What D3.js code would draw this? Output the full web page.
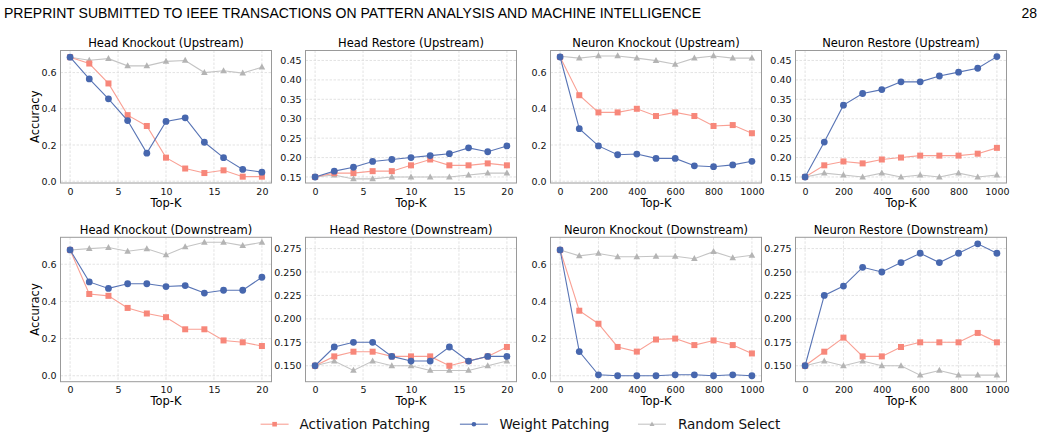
<!DOCTYPE html>
<html>
<head>
<meta charset="utf-8">
<script src="https://cdn.jsdelivr.net/npm/d3@7"></script>
<style>
  html, body { margin: 0; padding: 0; background: #fff; }
  svg { display: block; }
</style>
</head>
<body>
<svg id="chart" width="1043" height="438"></svg>
<script>
// ---------------- DATA ----------------
const headerText = "PREPRINT SUBMITTED TO IEEE TRANSACTIONS ON PATTERN ANALYSIS AND MACHINE INTELLIGENCE";
const pageNumber = "28";
const seriesNames = ["Activation Patching", "Weight Patching", "Random Select"];
const panelTitles = [
  "Head Knockout (Upstream)", "Head Restore (Upstream)", "Neuron Knockout (Upstream)", "Neuron Restore (Upstream)",
  "Head Knockout (Downstream)", "Head Restore (Downstream)", "Neuron Knockout (Downstream)", "Neuron Restore (Downstream)"
];
const xHead = [0, 2, 4, 6, 8, 10, 12, 14, 16, 18, 20];
const xNeuron = [0, 100, 200, 300, 400, 500, 600, 700, 800, 900, 1000];
const xTicksHead = [0, 5, 10, 15, 20];
const xTicksNeuron = [0, 200, 400, 600, 800, 1000];
const yTicksKnockout = [0.0, 0.2, 0.4, 0.6];
const yTicksRestoreUp = [0.15, 0.20, 0.25, 0.30, 0.35, 0.40, 0.45];
const yTicksRestoreDown = [0.150, 0.175, 0.200, 0.225, 0.250, 0.275];

// Head Knockout (Upstream)
const hkUpAct  = [0.685, 0.65, 0.54, 0.365, 0.305, 0.13, 0.07, 0.045, 0.06, 0.025, 0.025];
const hkUpWgt  = [0.685, 0.565, 0.455, 0.335, 0.155, 0.33, 0.35, 0.215, 0.13, 0.065, 0.05];
const hkUpRnd  = [0.685, 0.668, 0.677, 0.637, 0.637, 0.662, 0.667, 0.60, 0.61, 0.597, 0.63];
// Head Restore (Upstream)
const hrUpAct  = [0.15, 0.16, 0.16, 0.165, 0.165, 0.18, 0.195, 0.18, 0.18, 0.185, 0.18];
const hrUpWgt  = [0.15, 0.165, 0.175, 0.19, 0.195, 0.20, 0.205, 0.21, 0.225, 0.215, 0.23];
const hrUpRnd  = [0.15, 0.155, 0.145, 0.145, 0.15, 0.15, 0.15, 0.15, 0.155, 0.16, 0.16];
// Neuron Knockout (Upstream)
const nkUpAct  = [0.686, 0.475, 0.38, 0.38, 0.40, 0.36, 0.38, 0.36, 0.305, 0.31, 0.265];
const nkUpWgt  = [0.686, 0.29, 0.195, 0.146, 0.15, 0.126, 0.126, 0.085, 0.08, 0.09, 0.11];
const nkUpRnd  = [0.69, 0.68, 0.692, 0.692, 0.68, 0.666, 0.646, 0.68, 0.692, 0.68, 0.68];
// Neuron Restore (Upstream)
const nrUpAct  = [0.15, 0.18, 0.19, 0.185, 0.195, 0.20, 0.205, 0.205, 0.205, 0.21, 0.225];
const nrUpWgt  = [0.15, 0.24, 0.335, 0.365, 0.375, 0.395, 0.395, 0.41, 0.42, 0.43, 0.46];
const nrUpRnd  = [0.15, 0.16, 0.155, 0.15, 0.16, 0.15, 0.155, 0.15, 0.16, 0.15, 0.155];
// Head Knockout (Downstream)
const hkDnAct  = [0.677, 0.44, 0.43, 0.365, 0.335, 0.315, 0.25, 0.25, 0.19, 0.18, 0.16];
const hkDnWgt  = [0.677, 0.505, 0.47, 0.495, 0.495, 0.48, 0.485, 0.445, 0.46, 0.46, 0.53];
const hkDnRnd  = [0.677, 0.684, 0.69, 0.67, 0.683, 0.65, 0.693, 0.718, 0.718, 0.70, 0.718];
// Head Restore (Downstream)
const hrDnAct  = [0.15, 0.16, 0.165, 0.165, 0.16, 0.16, 0.16, 0.15, 0.155, 0.16, 0.17];
const hrDnWgt  = [0.15, 0.17, 0.175, 0.175, 0.16, 0.155, 0.155, 0.17, 0.155, 0.16, 0.16];
const hrDnRnd  = [0.15, 0.155, 0.145, 0.155, 0.15, 0.15, 0.145, 0.145, 0.145, 0.15, 0.155];
// Neuron Knockout (Downstream)
const nkDnAct  = [0.677, 0.35, 0.28, 0.155, 0.13, 0.195, 0.20, 0.165, 0.19, 0.165, 0.12];
const nkDnWgt  = [0.677, 0.13, 0.005, 0.0, 0.0, 0.0, 0.005, 0.005, 0.0, 0.005, 0.0];
const nkDnRnd  = [0.677, 0.645, 0.658, 0.64, 0.64, 0.643, 0.643, 0.63, 0.668, 0.635, 0.648];
// Neuron Restore (Downstream)
const nrDnAct  = [0.15, 0.165, 0.18, 0.16, 0.16, 0.17, 0.175, 0.175, 0.175, 0.185, 0.175];
const nrDnWgt  = [0.15, 0.225, 0.235, 0.255, 0.25, 0.26, 0.27, 0.26, 0.27, 0.28, 0.27];
const nrDnRnd  = [0.15, 0.155, 0.15, 0.155, 0.15, 0.15, 0.14, 0.145, 0.14, 0.14, 0.14];

// ---------------- STYLE / LAYOUT ----------------
const colors = ["#F7877A", "#4767AE", "#B4B4B4"];
const lineColors = ["#F9A094", "#5874B5", "#C4C4C4"];
const markers = ["square", "circle", "triangle"];
const font = "'DejaVu Sans', sans-serif";
const colLefts = [60.5, 305.5, 550.5, 795.5];
const panelW = 211;
const rows = [{top: 50.5, bottom: 183}, {top: 237.3, bottom: 381.7}];
const yDomains = {
  knockUp: [-0.01, 0.722], restoreUp: [0.1345, 0.4757],
  knockDown: [-0.032, 0.745], restoreDown: [0.133, 0.287]
};

const panels = [
  {title: panelTitles[0], x: xHead, xt: xTicksHead, xd: [-1, 21], yd: yDomains.knockUp, yt: yTicksKnockout, fmt: ".1f", s: [hkUpAct, hkUpWgt, hkUpRnd], r: 0, c: 0},
  {title: panelTitles[1], x: xHead, xt: xTicksHead, xd: [-1, 21], yd: yDomains.restoreUp, yt: yTicksRestoreUp, fmt: ".2f", s: [hrUpAct, hrUpWgt, hrUpRnd], r: 0, c: 1},
  {title: panelTitles[2], x: xNeuron, xt: xTicksNeuron, xd: [-50, 1050], yd: yDomains.knockUp, yt: yTicksKnockout, fmt: ".1f", s: [nkUpAct, nkUpWgt, nkUpRnd], r: 0, c: 2},
  {title: panelTitles[3], x: xNeuron, xt: xTicksNeuron, xd: [-50, 1050], yd: yDomains.restoreUp, yt: yTicksRestoreUp, fmt: ".2f", s: [nrUpAct, nrUpWgt, nrUpRnd], r: 0, c: 3},
  {title: panelTitles[4], x: xHead, xt: xTicksHead, xd: [-1, 21], yd: yDomains.knockDown, yt: yTicksKnockout, fmt: ".1f", s: [hkDnAct, hkDnWgt, hkDnRnd], r: 1, c: 0},
  {title: panelTitles[5], x: xHead, xt: xTicksHead, xd: [-1, 21], yd: yDomains.restoreDown, yt: yTicksRestoreDown, fmt: ".3f", s: [hrDnAct, hrDnWgt, hrDnRnd], r: 1, c: 1},
  {title: panelTitles[6], x: xNeuron, xt: xTicksNeuron, xd: [-50, 1050], yd: yDomains.knockDown, yt: yTicksKnockout, fmt: ".1f", s: [nkDnAct, nkDnWgt, nkDnRnd], r: 1, c: 2},
  {title: panelTitles[7], x: xNeuron, xt: xTicksNeuron, xd: [-50, 1050], yd: yDomains.restoreDown, yt: yTicksRestoreDown, fmt: ".3f", s: [nrDnAct, nrDnWgt, nrDnRnd], r: 1, c: 3}
];

const svg = d3.select("#chart");

// Header
svg.append("text").attr("x", 4).attr("y", 18)
  .attr("font-family", "'Liberation Sans Narrow', 'Liberation Sans', Arial, sans-serif")
  .attr("font-size", 14).attr("fill", "#000")
  .attr("textLength", 697).attr("lengthAdjust", "spacingAndGlyphs")
  .text(headerText);
svg.append("text").attr("x", 1037).attr("y", 18).attr("text-anchor", "end")
  .attr("font-family", "'Liberation Sans Narrow', 'Liberation Sans', Arial, sans-serif")
  .attr("font-size", 14).attr("fill", "#000")
  .text(pageNumber);

function drawMarker(g, type, cx, cy, color, size) {
  if (type === "square") {
    g.append("rect").attr("x", cx - size / 2).attr("y", cy - size / 2)
      .attr("width", size).attr("height", size).attr("fill", color);
  } else if (type === "circle") {
    g.append("circle").attr("cx", cx).attr("cy", cy).attr("r", size / 2).attr("fill", color);
  } else {
    const s = size;
    const pts = [[cx, cy - s * 0.6], [cx - s * 0.55, cy + s * 0.4], [cx + s * 0.55, cy + s * 0.4]];
    g.append("path").attr("d", d3.line()(pts) + "Z").attr("fill", color);
  }
}

const markerSizes = [6.0, 6.8, 6.0];

panels.forEach(p => {
  const left = colLefts[p.c], right = left + panelW;
  const top = rows[p.r].top, bottom = rows[p.r].bottom;
  const xs = d3.scaleLinear().domain(p.xd).range([left, right]);
  const ys = d3.scaleLinear().domain(p.yd).range([bottom, top]);
  const g = svg.append("g");

  // grid
  g.append("g").selectAll("line").data(p.xt).join("line")
    .attr("x1", d => xs(d)).attr("x2", d => xs(d)).attr("y1", top).attr("y2", bottom)
    .attr("stroke", "#dcdcdc").attr("stroke-width", 0.8).attr("stroke-dasharray", "2.5,1.5");
  g.append("g").selectAll("line").data(p.yt).join("line")
    .attr("x1", left).attr("x2", right).attr("y1", d => ys(d)).attr("y2", d => ys(d))
    .attr("stroke", "#dcdcdc").attr("stroke-width", 0.8).attr("stroke-dasharray", "2.5,1.5");

  // axes
  const xAxis = d3.axisBottom(xs).tickValues(p.xt).tickSize(0).tickPadding(5).tickFormat(d3.format("d"));
  const xg = g.append("g").attr("transform", `translate(0,${bottom})`).call(xAxis);
  const yAxis = d3.axisLeft(ys).tickValues(p.yt).tickSize(0).tickPadding(4).tickFormat(d3.format(p.fmt));
  const yg = g.append("g").attr("transform", `translate(${left},0)`).call(yAxis);
  [xg, yg].forEach(a => {
    a.select(".domain").remove();
    a.selectAll("text").attr("font-family", font).attr("font-size", 9.5).attr("fill", "#111");
  });

  // frame
  g.append("rect").attr("x", left).attr("y", top).attr("width", right - left).attr("height", bottom - top)
    .attr("fill", "none").attr("stroke", "#9a9a9a").attr("stroke-width", 1);

  // series (random first so others on top)
  [2, 0, 1].forEach(si => {
    const vals = p.s[si];
    const pts = p.x.map((xv, i) => [xs(xv), ys(vals[i])]);
    g.append("path").attr("d", d3.line()(pts)).attr("fill", "none")
      .attr("stroke", lineColors[si]).attr("stroke-width", 1.1);
    const mg = g.append("g");
    pts.forEach(pt => drawMarker(mg, markers[si], pt[0], pt[1], colors[si], markerSizes[si]));
  });

  // title
  g.append("text").attr("x", (left + right) / 2).attr("y", top - 3.5).attr("text-anchor", "middle")
    .attr("font-family", font).attr("font-size", 11.5).attr("fill", "#000").text(p.title);
  // x label
  g.append("text").attr("x", (left + right) / 2).attr("y", bottom + 23.5).attr("text-anchor", "middle")
    .attr("font-family", font).attr("font-size", 11.5).attr("fill", "#000").text("Top-K");
  // y label
  if (p.c === 0) {
    g.append("text").attr("transform", `translate(${39},${(top + bottom) / 2}) rotate(-90)`)
      .attr("text-anchor", "middle").attr("font-family", font).attr("font-size", 11.5)
      .attr("fill", "#000").text("Accuracy");
  }
});

// Legend
const legendItems = [
  {x: 260.6, tx: 299.4},
  {x: 459.9, tx: 499.4},
  {x: 638.0, tx: 677.9}
];
const ly = 424.2;
legendItems.forEach((it, i) => {
  const g = svg.append("g");
  g.append("line").attr("x1", it.x).attr("x2", it.x + 28).attr("y1", ly).attr("y2", ly)
    .attr("stroke", lineColors[i]).attr("stroke-width", 1.1);
  drawMarker(g, markers[i], it.x + 14, ly, colors[i], 4.6);
  g.append("text").attr("x", it.tx).attr("y", ly).attr("dy", "0.36em")
    .attr("font-family", font).attr("font-size", 13.6).attr("fill", "#111").text(seriesNames[i]);
});
</script>
</body>
</html>
